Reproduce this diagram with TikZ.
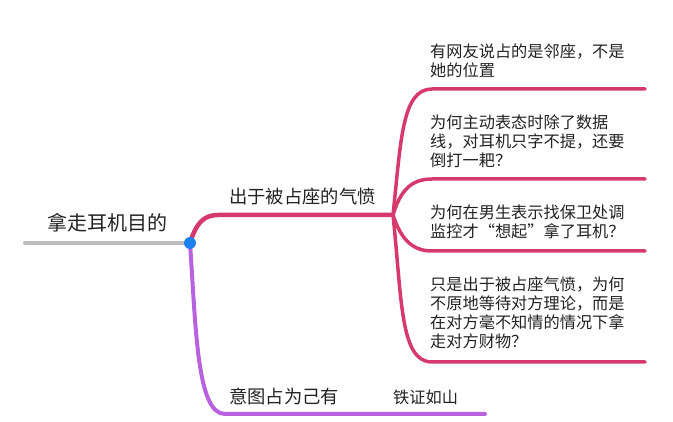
\documentclass[tikz,border=0pt]{standalone}
\usepackage{fontspec}
\setmainfont{Noto Sans CJK SC}
\definecolor{rootgray}{HTML}{BDBDBD}
\definecolor{redb}{HTML}{D63A6C}
\definecolor{purpb}{HTML}{B862E0}
\definecolor{hubblue}{HTML}{1D7FF0}
\definecolor{txt}{HTML}{222222}
\tikzset{
  rootlbl/.style={anchor=base west,inner sep=0pt,font=\fontsize{20}{23}\selectfont,text=txt},
  midlbl/.style={anchor=base west,inner sep=0pt,font=\fontsize{18.3}{21}\selectfont,text=txt},
  leaflbl/.style={anchor=north west,inner sep=0pt,align=left,font=\fontsize{16.2}{19}\selectfont,text=txt},
  redline/.style={draw=redb,line width=4.5pt,line cap=round},
  leafline/.style={draw=redb,line width=3.5pt,line cap=round},
  purpline/.style={draw=purpb,line width=4pt,line cap=round},
}
\begin{document}
\begin{tikzpicture}[x=1pt,y=-1pt]
\useasboundingbox (0,0) rectangle (673,422);
% coordinates
\coordinate (rootL) at (25,243);
\coordinate (hub) at (190,243);
\coordinate (b1s) at (218,215);
\coordinate (b1) at (393,215);
\coordinate (l1s) at (432,89);  \coordinate (l1e) at (645,89);
\coordinate (l2s) at (432,179); \coordinate (l2e) at (645,179);
\coordinate (l3s) at (432,251); \coordinate (l3e) at (645,251);
\coordinate (l4s) at (432,362); \coordinate (l4e) at (645,362);
\coordinate (b2s) at (225,414);
\coordinate (b2) at (485,414);
% root
\draw[draw=rootgray,line width=4pt,line cap=round] (rootL) -- (hub);
\node[rootlbl] (root) at (47,231) {拿走耳机目的};
% red branch
\draw[redline] (hub) .. controls (196,224) and (203,215) .. (b1s) -- (b1);
\node[midlbl] (m1) at (229,204) {出于被占座的气愤};
% leaves
\draw[leafline] (b1) .. controls (401,140) and (402,89) .. (l1s) -- (l1e);
\draw[leafline] (b1) .. controls (400,192) and (410,179) .. (l2s) -- (l2e);
\draw[leafline] (b1) .. controls (400,236) and (410,251) .. (l3s) -- (l3e);
\draw[leafline] (b1) .. controls (402,300) and (400,362) .. (l4s) -- (l4e);
\node[leaflbl] (t1) at (430,44) {有网友说占的是邻座，不是\\她的位置};
\node[leaflbl] (t2) at (430,115) {为何主动表态时除了数据\\线，对耳机只字不提，还要\\倒打一耙？};
\node[leaflbl] (t3) at (430,205) {为何在男生表示找保卫处调\\监控才“想起”拿了耳机？};
\node[leaflbl] (t4) at (430,277) {只是出于被占座气愤，为何\\不原地等待对方理论，而是\\在对方毫不知情的情况下拿\\走对方财物？};
% purple branch
\draw[purpline] (hub) .. controls (196,330) and (197,414) .. (b2s) -- (b2);
\node[midlbl] (m2) at (229,403) {意图占为己有};
\node[leaflbl,anchor=base west] (t5) at (393,404) {铁证如山};
% hub dot
\fill[hubblue] (hub) circle (6);
\end{tikzpicture}
\end{document}
